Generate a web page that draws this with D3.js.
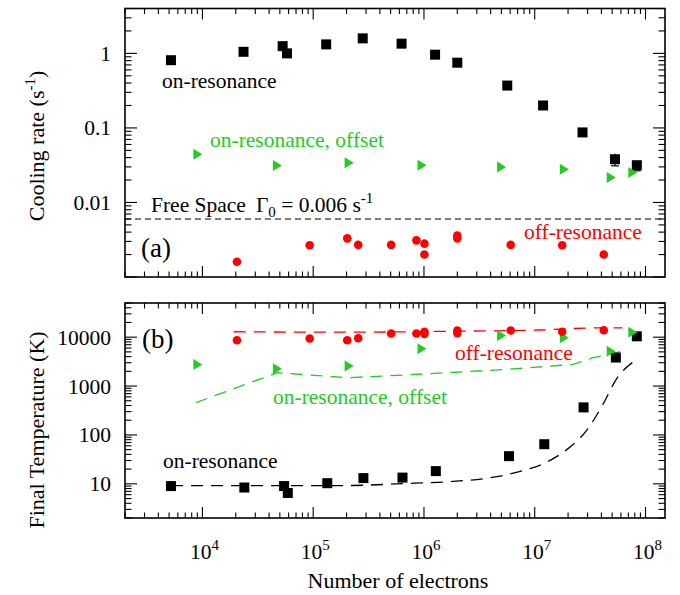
<!DOCTYPE html>
<html>
<head>
<meta charset="utf-8">
<script src="https://cdn.jsdelivr.net/npm/d3@7"></script>
<style>
  body { margin: 0; background: #fff; }
</style>
</head>
<body>
<div id="viz"></div>
<script>
// ---- data ----
// (a) cooling rate, s^-1
const onResN = [5200, 23500, 53000, 58000, 131000, 280000, 628000, 1.26e6, 2.0e6, 5.65e6, 1.19e7, 2.7e7, 5.3e7, 8.35e7]
const onResRate = [0.81, 1.05, 1.25, 1.0, 1.32, 1.59, 1.35, 0.96, 0.75, 0.37, 0.2, 0.087, 0.038, 0.0316]
const onResRateErr = [0, 0, 0, 0, 0, 0, 0, 0, 0, 0, 0, 0, 0.007, 0.005]

const offsetN = [9000, 47000, 209000, 950000, 4.97e6, 1.83e7, 4.85e7, 7.6e7]
const offsetRate = [0.0445, 0.0314, 0.034, 0.0316, 0.0298, 0.0279, 0.0217, 0.0252]

const offResN = [20500, 93000, 203000, 255000, 505000, 855000, 1.01e6, 1.01e6, 2.0e6, 2.0e6, 6.07e6, 1.77e7, 4.2e7]
const offResRate = [0.0016, 0.00267, 0.0033, 0.0027, 0.0027, 0.0031, 0.0028, 0.0020, 0.0036, 0.0033, 0.0027, 0.00267, 0.0020]

const freeSpaceRate = 0.006

// (b) final temperature, K
const onResTN = [5200, 23900, 54600, 59000, 134000, 284000, 640000, 1.28e6, 5.86e6, 1.22e7, 2.76e7, 5.4e7, 8.35e7]
const onResT = [9.0, 8.4, 9.0, 6.5, 10.3, 13.1, 13.4, 18.2, 36.8, 64.6, 366, 3830, 10400]
const offsetT = [2770, 2265, 2560, 5800, 10800, 9700, 5180, 12600]
const offResT = [8680, 9400, 8680, 9530, 11900, 11900, 12900, 11700, 13700, 12100, 13700, 12900, 13900]

// dashed model curves in (b)
const onResFitN = [5200, 1.77e5, 8.05e5, 1.73e6, 4.86e6, 7.9e6, 1.28e7, 2.07e7, 2.93e7, 4.14e7, 5.46e7, 8.26e7]
const onResFitT = [9.2, 9.2, 10.3, 11.1, 14.4, 18.7, 27.7, 56, 122, 428, 1390, 3440]
const offsetFitN = [8740, 47500, 203000, 571000, 5.58e6, 2.22e7, 3.37e7, 6.26e7]
const offsetFitT = [458, 1877, 1484, 1653, 2190, 2770, 3800, 5180]
const offResFitN = [19200, 177000, 2.0e6, 1.11e7, 3.86e7, 6.2e7]
const offResFitT = [12900, 12650, 13260, 14030, 15550, 15550]

const yTopLabels = [1, 0.1, 0.01]
const yBotLabels = [10, 100, 1000, 10000]
const xLabelExps = [4, 5, 6, 7, 8]

const RED = "#ff0000", GREEN = "#22cc22", BLACK = "#000"
const FONT = "'Liberation Serif', 'Times New Roman', 'DejaVu Serif', serif"

// ---- layout ----
const width = 680, height = 595
const left = 125, right = 665

const svg = d3.select("#viz").append("svg")
    .attr("width", width)
    .attr("height", height)
    .attr("font-family", FONT)

const x = d3.scaleLog().domain([2000, 1.5e8]).range([left, right])
const yTop = d3.scaleLog().domain([0.001, 4]).range([277, 8.5])
const yBot = d3.scaleLog().domain([2, 50000]).range([518, 303])

const isMajor = v => Math.abs(Math.log10(v) - Math.round(Math.log10(v))) < 1e-9

// frame + inward ticks on all four sides
function frame(y) {
    const g = svg.append("g")
    const [y0, y1] = y.range()
    const xt = x.ticks(20)
    const yt = y.ticks(20)
    const big = 11, small = 5.5
    xt.forEach(v => {
        const L = isMajor(v) ? big : small
        g.append("line").attr("x1", x(v)).attr("x2", x(v)).attr("y1", y0).attr("y2", y0 - L)
        g.append("line").attr("x1", x(v)).attr("x2", x(v)).attr("y1", y1).attr("y2", y1 + L)
    })
    yt.forEach(v => {
        const L = isMajor(v) ? big + 1 : small + 1
        g.append("line").attr("y1", y(v)).attr("y2", y(v)).attr("x1", left).attr("x2", left + L)
        g.append("line").attr("y1", y(v)).attr("y2", y(v)).attr("x1", right).attr("x2", right - L)
    })
    g.selectAll("line").attr("stroke", BLACK).attr("stroke-width", 1.1)
    g.append("rect")
        .attr("x", left).attr("y", y1)
        .attr("width", right - left).attr("height", y0 - y1)
        .attr("fill", "none").attr("stroke", BLACK).attr("stroke-width", 1.6)
}

frame(yTop)
frame(yBot)

// y tick labels
function yLabels(y, vals) {
    svg.append("g").selectAll("text").data(vals).enter().append("text")
        .attr("x", 111)
        .attr("y", d => y(d) + 7.5)
        .attr("text-anchor", "end")
        .attr("font-size", 21.5)
        .text(d => d3.format("")(d))
}
yLabels(yTop, yTopLabels)
yLabels(yBot, yBotLabels)

// x tick labels (10^n)
const xl = svg.append("g").selectAll("text").data(xLabelExps).enter().append("text")
    .attr("x", d => x(Math.pow(10, d)) + 2)
    .attr("y", 559)
    .attr("text-anchor", "middle")
    .attr("font-size", 21.5)
xl.append("tspan").text("10")
xl.append("tspan").attr("dy", -9).attr("font-size", 15).text(d => d)

// axis titles
svg.append("text")
    .attr("x", (left + right) / 2 + 3).attr("y", 588)
    .attr("text-anchor", "middle").attr("font-size", 22)
    .text("Number of electrons")

const yt1 = svg.append("text")
    .attr("transform", "translate(44,146) rotate(-90)")
    .attr("text-anchor", "middle").attr("font-size", 22)
yt1.append("tspan").text("Cooling rate (s")
yt1.append("tspan").attr("dy", -9).attr("font-size", 15).text("-1")
yt1.append("tspan").attr("dy", 9).text(")")

svg.append("text")
    .attr("transform", "translate(44,430) rotate(-90)")
    .attr("text-anchor", "middle").attr("font-size", 22)
    .text("Final Temperature (K)")

// ---- marks ----
const zip = (a, b) => a.map((v, i) => [v, b[i]])

function squares(y, xs, ys) {
    svg.append("g").selectAll("rect").data(zip(xs, ys)).enter().append("rect")
        .attr("x", d => x(d[0]) - 5).attr("y", d => y(d[1]) - 5)
        .attr("width", 10).attr("height", 10)
        .attr("fill", BLACK)
}
function circles(y, xs, ys) {
    svg.append("g").selectAll("circle").data(zip(xs, ys)).enter().append("circle")
        .attr("cx", d => x(d[0])).attr("cy", d => y(d[1]))
        .attr("r", 4.3).attr("fill", RED)
}
function triangles(y, xs, ys) {
    svg.append("g").selectAll("path").data(zip(xs, ys)).enter().append("path")
        .attr("d", "M-4,-5.5L5,0L-4,5.5Z")
        .attr("transform", d => "translate(" + x(d[0]) + "," + y(d[1]) + ")")
        .attr("fill", GREEN)
}
function dashed(y, xs, ys, color, curve) {
    const line = d3.line().x(d => x(d[0])).y(d => y(d[1])).curve(curve || d3.curveMonotoneX)
    svg.append("path")
        .attr("d", line(zip(xs, ys)))
        .attr("fill", "none").attr("stroke", color)
        .attr("stroke-width", 1.3).attr("stroke-dasharray", "12,8")
}

// (a)
svg.append("line")
    .attr("x1", x.range()[0]).attr("x2", x.range()[1])
    .attr("y1", yTop(freeSpaceRate)).attr("y2", yTop(freeSpaceRate))
    .attr("stroke", BLACK).attr("stroke-width", 1.1).attr("stroke-dasharray", "6,4")

// error bars for the last on-resonance points
svg.append("g").selectAll("g").data(onResN.map((n, i) => [n, onResRate[i], onResRateErr[i]]).filter(d => d[2] > 0))
    .enter().append("g").each(function(d) {
        const g = d3.select(this), cx = x(d[0])
        g.append("line").attr("x1", cx).attr("x2", cx)
            .attr("y1", yTop(d[1] + d[2])).attr("y2", yTop(d[1] - d[2]))
        g.append("line").attr("x1", cx - 4).attr("x2", cx + 4)
            .attr("y1", yTop(d[1] - d[2])).attr("y2", yTop(d[1] - d[2]))
        g.selectAll("line").attr("stroke", BLACK).attr("stroke-width", 1.2)
    })

squares(yTop, onResN, onResRate)
triangles(yTop, offsetN, offsetRate)
circles(yTop, offResN, offResRate)

// (b)
dashed(yBot, offResFitN, offResFitT, RED)
dashed(yBot, offsetFitN, offsetFitT, GREEN, d3.curveLinear)
dashed(yBot, onResFitN, onResFitT, BLACK)
squares(yBot, onResTN, onResT)
triangles(yBot, offsetN, offsetT)
circles(yBot, offResN, offResT)

// ---- annotations ----
function label(txt, px, py, color, size) {
    return svg.append("text").attr("x", px).attr("y", py)
        .attr("font-size", size || 21.5).attr("fill", color || BLACK).text(txt)
}
label("on-resonance", 162, 88)
label("on-resonance, offset", 210, 147, GREEN)
label("off-resonance", 524, 239, RED)
label("(a)", 141, 257, BLACK, 27)

const fs = svg.append("text").attr("x", 151).attr("y", 212).attr("font-size", 21.5)
fs.append("tspan").text("Free Space")
fs.append("tspan").attr("dx", 10).text("\u0393")
fs.append("tspan").attr("dy", 5).attr("font-size", 15).text("0")
fs.append("tspan").attr("dy", -5).text(" = 0.006 s")
fs.append("tspan").attr("dy", -9).attr("font-size", 15).text("-1")

label("(b)", 142, 348, BLACK, 27)
label("off-resonance", 455, 360, RED)
label("on-resonance, offset", 273, 404, GREEN)
label("on-resonance", 163, 468)
</script>
</body>
</html>
